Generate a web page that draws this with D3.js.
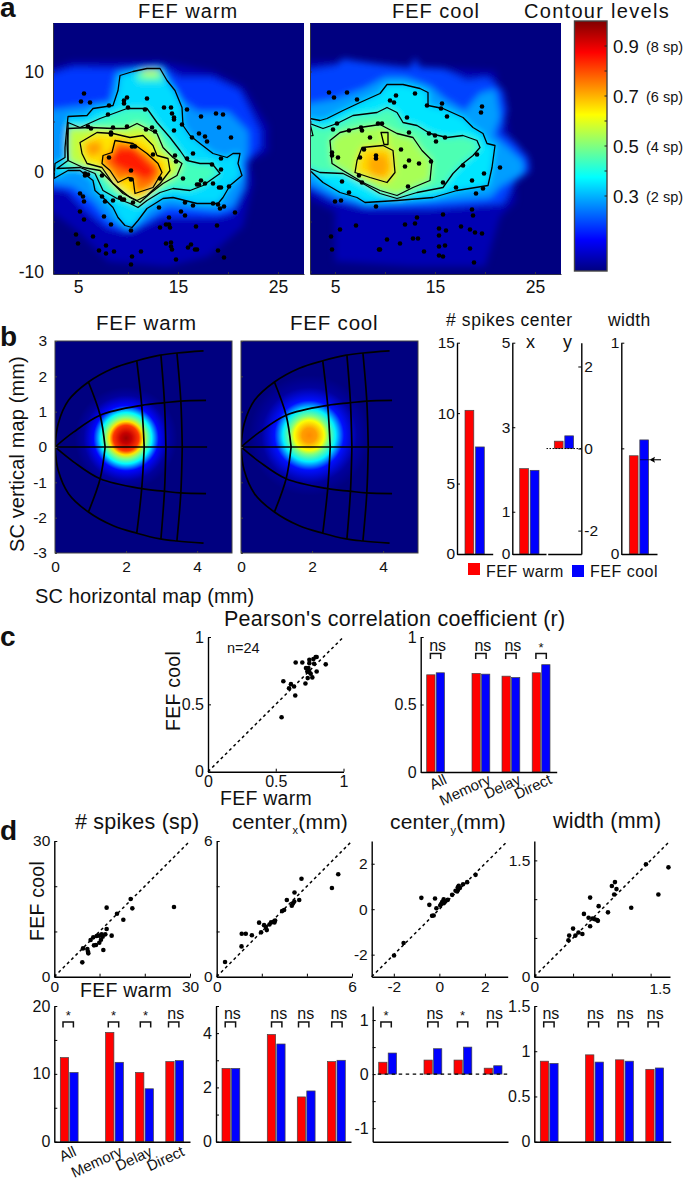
<!DOCTYPE html>
<html><head><meta charset="utf-8">
<script src="https://cdn.jsdelivr.net/npm/d3@7"></script>
<style>
html,body{margin:0;padding:0;background:#fff}
svg{display:block}
text{font-family:"Liberation Sans",Arial,sans-serif;fill:#111}
</style></head><body><svg id="c" width="685" height="1181"></svg>
<script>
// ---------- DATA: panel a ----------
const warmDots=[[5.6,7.8],[5.3,7],[6.2,6.9],[8.1,6.6],[9.6,7.1],[9.6,6.8],[9.9,7.4],[11.9,7.3],[10,6.4],[11.7,6.2],[13.6,6.4],[14.3,6.4],[14.4,5.8],[14.6,5.4],[14.6,5.2],[15.9,6.2],[17.3,5.5],[18.8,5.8],[19.5,5.7],[19.1,4.4],[20.3,3.4],[15.4,4.7],[14.6,4.1],[17.1,3.8],[17.7,3.5],[17.9,3],[16.4,3.4],[16.5,1.8],[15.9,1.3],[14.7,1.6],[14.8,1],[18.4,.7],[19.3,1.3],[19.3,.2],[15.5,-.7],[18.5,-1.2],[17.7,-1.2],[17.3,-.9],[17.1,-1.3],[16.9,-1.3],[19.3,-1.6],[20.1,-1.5],[19.1,-1.6],[15.7,-3.1],[16.5,-3.4],[18.5,-3.2],[19,-3.3],[19.6,-3.5],[19.2,-3.7],[20.7,-4.1],[15.3,-4],[15.7,-4.4],[13.1,-3.6],[14.1,-4.6],[13.8,-5.3],[14.1,-5.3],[14.2,-5.6],[13.2,-5.6],[16.8,-5.5],[18.9,-5.4],[10.3,-5.9],[4.8,-6.3],[6.5,-6.5],[5,-7.2],[7.8,-7.4],[7.1,-7.9],[7.8,-8.2],[8.6,-8],[11.3,-8],[10.4,-8.5],[10.3,-9.3],[13.8,-7.2],[14.3,-7.1],[14.3,-7.5],[14.4,-7.8],[16,-7.6],[16.3,-7.3],[16.7,-7.8],[16.9,-7.8],[19,-7.9],[19.6,-8.6],[14.8,-8.8],[5.2,-2.2],[5.5,-2.5],[5.6,-3],[5.2,-4],[5.6,-4.8],[7.6,-4.5],[8.3,-5.3],[7.4,-2.5],[7.7,-3],[8.5,-2.9],[9.2,-2.6],[9.4,-2.8],[9.6,-2.8],[10.5,-3.1],[5.7,-.2],[6,-.3],[5.7,-.4],[7.4,-.4],[10.3,.1],[10.3,-.8],[13.2,-.7],[8.1,1.4],[12.5,1.7],[10.4,2.5],[10.7,2.5],[8,5.7],[6,4.5],[6.3,4.3],[8.5,4.4],[8.3,3.9],[8.3,3.7],[9.9,4.5],[11.8,4.2],[12.4,4.4],[12.7,4]];
const coolDots=[[4.4,7.9],[4.9,7.4],[6.2,7.9],[7.2,7.2],[10.5,7.1],[10.9,6.9],[11.1,7.6],[13,7.8],[14.2,6.6],[15.6,6.3],[15.7,6.8],[16.2,5.5],[12.2,5.4],[19.7,6.5],[19.6,5.9],[5.2,4.8],[4.8,4.2],[6.4,4.1],[7.6,4.4],[7.7,4.1],[9.3,4.8],[9.7,4.8],[8.5,3.4],[12.4,3.9],[14.4,3.8],[15,3.6],[15.1,3],[16,3.4],[7.9,2.2],[4.7,1.9],[4.7,1.6],[5.3,1.4],[7.5,1.4],[9.1,1.6],[9.1,1.3],[11.6,2.2],[12.4,1.1],[12,.5],[13.4,.8],[14.6,1],[19.2,1.7],[17.8,.6],[21.5,.4],[19.9,-.2],[7.4,-.4],[7.7,-1.1],[5.7,-1],[12.3,-1.5],[15.8,-1.1],[18.7,-.9],[17.1,-1.6],[19.8,-1.7],[19.1,-2.2],[6.4,-2.1],[5,-3],[5.6,-2.9],[9.1,-3.5],[18.7,-3.8],[18.8,-4.4],[15.8,-4.3],[13.2,-4.6],[13,-5.2],[12,-5.3],[7.1,-5.4],[5.5,-5.8],[4.6,-6.5],[4.7,-7.8],[10.2,-6.8],[11.5,-7.2],[12.8,-6.7],[13.3,-6.7],[13.9,-8],[9.4,-7.8],[9.5,-7.8],[15.4,-5.7],[16.1,-5.9],[15.4,-6.4],[17.6,-5.5],[18.5,-5.8],[19,-6.1],[19.7,-6.2],[15.4,-7.5],[16,-7.4],[18.5,-7.7],[15.4,-8.4],[15.8,-8.5],[18.9,-9.1]];

const warmC1=[[2.6,-.7],[4,.1],[5.2,.1],[6.5,-.9],[6.7,-1.9],[7.5,-2.6],[8.5,-3.6],[9,-4.6],[9.7,-5.4],[10.4,-5.6],[11,-4.9],[11.9,-3.7],[13.5,-2.7],[14.5,-2.6],[16.9,-3.2],[19,-3.2],[19.5,-2.6],[20.2,-1.4],[21.4,-.4],[21,.8],[21.2,1.8],[20.5,1.8],[19.9,1.4],[18.5,1.8],[17.2,2.8],[16.2,3.6],[15.5,4.6],[15.4,6.4],[14.7,8.1],[13.9,9.1],[13.2,10.3],[11.9,10.3],[10.5,10],[9.2,9.6],[9,8.1],[8.5,6.6],[6.5,6.3],[5.9,5.6],[4,5.5],[3.7,2.4],[3.7,1.4],[2.7,.8]];
const warmC2=[[2.9,.3],[4,1.1],[4,4.9],[5.2,4.4],[7.2,5.3],[9.9,6.3],[11.9,6.3],[12.9,4.9],[14.2,3.4],[15.2,2.1],[15.9,1.1],[17.2,.8],[18.4,.8],[19.2,-.2],[17.5,-1.4],[16.2,-1.9],[14.5,-1.7],[13.2,-2.1],[11.9,-2.9],[11,-3.6],[10.2,-3.2],[8.9,-2.7],[7.5,-1.9],[6.7,-.2],[5.2,.4]];
const warmC3=[[4,4.3],[6.2,4.4],[8.5,4.3],[9.9,4.3],[10.9,4.8],[11.9,4.3],[12.9,3.8],[13.5,2.4],[14.5,1.4],[15.4,.8],[14.9,-.4],[13.5,-1.2],[12.2,-2.2],[11.2,-3.1],[10.2,-2.6],[8.5,-1.2],[7.2,.1],[5.5,.4],[4,1.1],[3.9,2.8]];
const warmC4=[[5.2,2.9],[6.9,3.9],[8.5,3.8],[10.2,3.4],[11.5,3.6],[12.5,2.6],[12.9,1.6],[14,1.3],[14.2,.1],[13.2,-1.2],[11.9,-2.4],[10.9,-2.9],[9.5,-2.2],[8.5,-1.2],[7.4,.4],[5.9,.8],[5.4,1.8]];
const warmC5=[[8.7,3.1],[10.5,2.8],[11.9,1.8],[13,.8],[13.4,-.1],[12.5,-1.6],[10.7,-2.2],[10.5,-.7],[10,-.6],[9,-1.1],[8.2,.1],[7.4,.8],[7.5,1.6],[8.4,1.9]];
const warmEnvA=[[1,-3],[5,-6],[8,-9],[14,-9.5],[18,-8.5],[21.5,-5.5],[22.5,-1],[22,1],[24,2],[24,4.5],[21.5,8.5],[18.5,10],[13.2,11],[8.5,11],[4.5,11],[1,10]];
const warmEnvB=[[1,9.4],[4.5,10.4],[8.5,10.3],[13.2,10.6],[15.2,9.4],[18.5,9.4],[21.2,8.1],[23.2,4.1],[23.2,2.4],[22,1.1],[21.7,-1.6],[20.5,-4.2],[18.9,-4.6],[13.2,-4.6],[11.2,-5.6],[9.9,-6.1],[7.9,-5.6],[5.5,-3.6],[3.9,-1.9],[1,-1.6]];
const warmEnvC=[[1,6],[5,6.5],[8.2,7],[8.8,9.9],[13.4,10.4],[14.4,8.5],[15.5,7],[17,6],[20,6],[22,4],[22,2],[21.5,.5],[21.5,-1.5],[20.5,-3.5],[19,-4],[14,-3.5],[11.5,-5],[10,-5.8],[8,-4.8],[6.5,-3],[4.5,-1.5],[1,-1]];
const warmHot=[[8.7,2.3],[10.5,2.4],[11.9,1.1],[12.9,.1],[11.9,-.9],[10.5,-.2],[8.9,.4],[8.2,1.1]];
const warmLeftSpot=[[5.7,2.8],[7.2,3.1],[7.5,2.1],[6.5,1.4],[5.9,1.8]];
const warmTopSpot=[[10.8,10],[13.2,10.2],[13.6,9],[11,9]];
const warmTopCore=[[11.5,10.1],[13,10.1],[13,9.6],[11.5,9.6]];

const coolC1=[[1,5.3],[2.5,5.3],[3.5,5.1],[4.2,5.3],[5.8,6.1],[7.5,6.9],[9.5,7.8],[10.2,8.7],[11.8,8.7],[13.5,8.3],[14.3,7.9],[14.3,6.6],[15.8,6.3],[17.8,5.4],[18.8,4.4],[19.8,3.8],[20.2,2.8],[21,2.6],[20.7,.4],[20.3,-1.4],[17.2,-1.9],[14.8,-2.6],[11.2,-2.9],[8,-3.1],[7.2,-2.6],[5.5,-2.1],[3.8,-1.1],[2.5,.1],[1,.1]];
const coolC2=[[1,4.8],[2.5,4.8],[3.8,4.3],[5.2,4.8],[6.8,5.6],[9.2,5.9],[10.2,6.4],[11.2,5.9],[11.8,4.9],[13.2,4.6],[14.5,3.8],[16.2,3.4],[17.8,3.6],[19.2,3.1],[19.5,2.4],[18.8,1.6],[17.8,.8],[16.8,-.2],[15.8,-1.6],[13.2,-2.1],[11.2,-2.7],[9.5,-2.2],[7.8,-1.2],[5.8,-.2],[3.5,-.1],[2.5,.3],[1,.3]];
const coolC3=[[4.5,3.1],[5.5,3.9],[7.5,4.4],[9.5,4.7],[11.2,3.8],[12.8,3.4],[13.7,2.1],[14.7,1.1],[14.5,-.9],[12.8,-1.6],[11.2,-2.4],[9.5,-1.9],[7.8,-1.1],[5.8,.1],[4.7,.8]];
const coolC4=[[7.7,2.4],[9.8,2.6],[10.8,2.1],[11,-.1],[10.2,-1.1],[8.5,-.6],[7,-.1],[7.2,1.1]];
const coolC5=[[9.6,3.9],[10.3,3.9],[10.3,2.7],[9.9,2.7]];
const coolNotch=[[1,3.4],[2.8,3.6],[2.5,4.8],[1,4.8]];
const coolEnvA=[[1,-2],[5,-4],[5,-9],[13,-9.5],[20,-9.5],[21.5,-4.5],[23,-3],[23,1],[21,10],[5,11],[1,11]];
const coolEnvB=[[1,9.9],[5.2,10.6],[5.8,11.3],[6.8,11.1],[12.5,10.3],[13,11.4],[13.5,10.4],[15.8,10.3],[18.2,9.1],[20.2,9.4],[21.8,8.1],[22.2,6.1],[21.5,3.8],[22.8,3.1],[24.3,1.4],[24.5,.1],[22.8,-1.2],[21.8,-3.2],[14.8,-3.7],[8,-3.7],[4.8,-2.9],[1,-.9]];
const coolEnvC=[[1,6.5],[5,7.2],[8,8.3],[10,9.4],[12,9.4],[14.5,8.5],[16,7.2],[18,6],[19.5,7.8],[21,8.2],[21.5,5.5],[20.8,3.6],[22,2.6],[23.8,1],[23.8,-.2],[21.5,-1.5],[20.5,-2.6],[15,-3],[8,-3.3],[5,-2.5],[1,-.5]];
const coolHot=[[8.5,1.6],[10,1.8],[10.5,.6],[10,-.6],[8.7,-.4],[8.2,.6]];

// fill level of each region (heat value)
const warmBands=[[warmEnvA,.05],[warmEnvB,.18],[warmEnvC,.27],[warmC1,.34],[warmTopSpot,.45],[warmTopCore,.58],[warmC2,.44],[warmC3,.56],[warmC4,.65],[warmLeftSpot,.72],[warmC5,.76],[warmHot,.85]];
const coolBands=[[coolEnvA,.05],[coolEnvB,.19],[coolEnvC,.28],[coolC1,.35],[coolC2,.45],[coolC3,.54],[coolC5,.6],[coolC4,.66],[coolHot,.71]];
const warmContours=[warmC1,warmC2,warmC3,warmC4,warmC5];
const coolContours=[coolC1,coolC2,coolC3,coolC4,coolC5];

const jetStops=[0,.125,.375,.625,.875,1];
const jetColors=["#000080","#0000ff","#00ffff","#ffff00","#ff0000","#800000"];
const barTickVals=[.3,.4,.5,.6,.7,.8,.9];
const barLabels=[[.9,"0.9","(8 sp)"],[.7,"0.7","(6 sp)"],[.5,"0.5","(4 sp)"],[.3,"0.3","(2 sp)"]];

// ---------- DATA: panel b ----------
const arcOuter=[[0,0],[.09,.66],[.38,1.32],[.94,1.84],[1.64,2.23],[2.3,2.44],[2.96,2.6],[3.43,2.66],[4.18,2.72]];
const arcInner=[[0,0],[.52,.42],[1.27,.9],[2.44,1.18],[3.05,1.25],[3.52,1.3],[4.25,1.32]];
const arcMid=[[0,0],[4.28,0]];
const radial1=[[.94,1.84],[1.27,.9],[1.41,0]];
const radial2=[[2.3,2.44],[2.44,1.18],[2.51,0]];
const radial3=[[2.98,2.6],[3.08,1.25],[3.12,0]];
const radial4=[[3.43,2.66],[3.54,1.3],[3.58,0]];
const warmCentre=[2,.25], coolCentre=[1.92,.33];
const warmRadii=[0,.15,.36,.47,.58,.72,.92,1.2,1.45];
const warmHeat=[.97,.93,.82,.65,.5,.37,.13,.03,0];
const coolRadii=[0,.2,.42,.54,.74,.98,1.35,1.7];
const coolHeat=[.74,.72,.62,.5,.36,.14,.03,0];
const spikesSummary=[10.2,7.6], centerXSummary=[2.02,1.98], centerYSummary=[.18,.31], widthSummary=[.465,.54];
const arrowValue=.446;

// ---------- DATA: panel c ----------
const rPairs=[[.543,.404],[.556,.672],[.612,.65],[.598,.62],[.635,.633],[.644,.566],[.719,.655],[.736,.695],[.77,.7],[.647,.811],[.696,.811],[.748,.831],[.748,.806],[.723,.769],[.741,.769],[.733,.744],[.748,.739],[.758,.727],[.802,.744],[.869,.797],[.783,.801],[.795,.851],[.778,.836],[.802,.851]];
const categories=["All","Memory","Delay","Direct"];
const rWarm=[.72,.73,.71,.735], rCool=[.735,.725,.70,.795];
const rSig=["ns","ns","ns","*"];

// ---------- DATA: panel d ----------
const spikePairs=[[6.19,3.17],[6.34,6.26],[7.3,6.12],[7.52,5.16],[7.44,5.53],[8.03,8.11],[8.62,8.7],[9.36,8.99],[9.95,9.07],[10.47,9.36],[8.77,6.93],[9.21,7],[9.95,7.52],[10.32,8.18],[10.84,5.9],[10.69,8.85],[11.28,9.36],[11.57,10.54],[12.68,9.07],[11.57,15.26],[13.86,13.93],[15.26,12.6],[16.88,17.17],[17.25,15.11],[26.46,15.4]];
const cxPairs=[[.37,.65],[1.1,1.34],[1.11,1.9],[1.29,1.9],[1.56,1.83],[1.88,2.39],[1.97,1.96],[2.1,2.28],[2.18,2.21],[2.22,2.06],[2.34,2.31],[2.41,2.4],[2.56,2.4],[2.59,2.48],[2.9,2.9],[2.99,2.95],[3.11,3.39],[3.33,3.14],[3.38,3.24],[3.44,3.32],[3.45,3.72],[3.66,3.39],[3.76,4.33],[5.11,3.92],[5.39,4.53]];
const cyPairs=[[-1.99,-2.04],[-1.57,-1.49],[-.79,.5],[-.44,.19],[-.19,.47],[-.25,-.28],[-.13,.04],[.07,.22],[.19,.44],[.19,.26],[.26,.34],[.37,.41],[.56,.63],[.71,.81],[.82,.85],[.78,.78],[.85,1.03],[.9,.93],[1.04,1.1],[1.22,1.19],[1.59,1.51],[.81,.96],[.12,.31],[.04,.16],[-.32,-.29]];
const widthPairs=[[.44,.47],[.45,.53],[.5,.62],[.53,.53],[.57,.57],[.62,.55],[.64,.81],[.7,.76],[.72,1.02],[.72,.65],[.75,.75],[.78,.74],[.81,.73],[.82,.72],[.83,.91],[.95,.83],[1,1.17],[1.04,1.22],[1.03,1.06],[1.06,1.13],[1.25,.89],[1.44,1.45],[1.6,1.06],[1.73,1.41]];
const spikesWarm=[12.4,16.1,10.2,11.8], spikesCool=[10.2,11.7,7.8,11.95], spikesSig=["*","*","*","ns"];
const cxWarm=[2.7,3.95,1.65,2.95], cxCool=[2.7,3.6,1.87,3.0], cxSig=["ns","ns","ns","ns"];
const cyWarm=[.22,.26,.26,.11], cyCool=[.39,.47,.5,.155], cySig=["*","ns","*","ns"];
const wWarm=[.89,.96,.905,.8], wCool=[.865,.88,.89,.815], wSig=["ns","ns","ns","ns"];

// ---------- helpers ----------
const RED="#ff0000",BLUE="#0000ff";
const svg=d3.select("#c");
const defs=svg.append("defs");
const jet=d3.scaleLinear().domain(jetStops).range(jetColors).clamp(true);
function T(x,y,s,size,o={}){
  const t=svg.append("text").attr("x",x).attr("y",y).attr("font-size",size).text(s);
  if(o.anchor)t.attr("text-anchor",o.anchor);
  if(o.weight)t.attr("font-weight",o.weight);
  if(o.ls)t.attr("letter-spacing",o.ls);
  if(o.rot!==undefined)t.attr("transform",`rotate(${o.rot} ${x} ${y})`);
  return t;
}
function styleAxis(g,size,lw,col){
  g.selectAll("text").attr("font-size",size).attr("fill","#111").attr("stroke","none");
  g.selectAll("path.domain").attr("stroke",col||"#000").attr("stroke-width",lw);
  g.selectAll(".tick line").attr("stroke",col||"#000").attr("stroke-width",Math.min(lw,1));
}
function axL(x,scale,vals,fmt,size,lw,pad){
  const g=svg.append("g").attr("transform",`translate(${x},0)`).call(
    d3.axisLeft(scale).tickValues(vals).tickFormat(fmt).tickSizeInner(-3).tickSizeOuter(0).tickPadding(pad===undefined?4:pad));
  styleAxis(g,size,lw);return g;
}
function axB(y,scale,vals,fmt,size,lw,pad){
  const g=svg.append("g").attr("transform",`translate(0,${y})`).call(
    d3.axisBottom(scale).tickValues(vals).tickFormat(fmt).tickSizeInner(-3).tickSizeOuter(0).tickPadding(pad===undefined?4:pad));
  styleAxis(g,size,lw);return g;
}
const lab=(ls)=>(d)=>{const m=ls.find(l=>l[0]===d);return m?m[1]:""};

// ---------- Panel a ----------
function heatPanel(id,left,bands,contours,dots,extra){
  const x=d3.scaleLinear().domain([2.5,27.6]).range([left,left+251]);
  const y=d3.scaleLinear().domain([-10.25,14.85]).range([274,23]);
  const line=d3.line().x(d=>x(d[0])).y(d=>y(d[1])).curve(d3.curveLinearClosed);
  const clip=defs.append("clipPath").attr("id","cp"+id);
  clip.append("rect").attr("x",left).attr("y",23).attr("width",251).attr("height",251);
  const f=defs.append("filter").attr("id","bl"+id).attr("filterUnits","userSpaceOnUse")
    .attr("x",left-40).attr("y",-20).attr("width",340).attr("height",340);
  f.append("feGaussianBlur").attr("stdDeviation",3.8);
  const root=svg.append("g").attr("clip-path",`url(#cp${id})`);
  root.append("rect").attr("x",left).attr("y",23).attr("width",251).attr("height",251).attr("fill",jet(0));
  const heat=root.append("g").attr("filter",`url(#bl${id})`);
  heat.selectAll("path").data(bands).join("path").attr("d",d=>line(d[0])).attr("fill",d=>jet(d[1]));
  root.selectAll("path.ct").data(contours).join("path").attr("class","ct").attr("d",line)
    .attr("fill","none").attr("stroke","#000").attr("stroke-width",1.3).attr("stroke-linejoin","round");
  if(extra) root.append("path").attr("d",d3.line().x(d=>x(d[0])).y(d=>y(d[1]))(extra)).attr("fill","none").attr("stroke","#000").attr("stroke-width",1.2);
  root.selectAll("circle").data(dots).join("circle").attr("cx",d=>x(d[0])).attr("cy",d=>y(d[1])).attr("r",2.3).attr("fill","#000");
  return {x,y};
}
const aW=heatPanel("w",53,warmBands,warmContours,warmDots);
const aC=heatPanel("c",310,coolBands,coolContours,coolDots,coolNotch);
function aAxes(p,lbl){
  const gx=svg.append("g").attr("transform","translate(0,274)").call(d3.axisBottom(p.x).tickValues([5,10,15,20,25]).tickFormat(d=>d%10===5?d:"").tickSizeInner(-2).tickSizeOuter(0).tickPadding(7));
  styleAxis(gx,17.5,1,"#334");
  const gy=svg.append("g").attr("transform",`translate(${p.x.range()[0]},0)`).call(d3.axisLeft(p.y).tickValues([-10,-5,0,5,10]).tickFormat(d=>lbl&&d%10===0?d:"").tickSizeInner(-2).tickSizeOuter(0).tickPadding(9));
  styleAxis(gy,17.5,1,"#334");
}
aAxes(aW,true);aAxes(aC,false);
T(138,18,"FEF warm",20,{ls:1});
T(392,18,"FEF cool",20,{ls:1});
T(524,18,"Contour levels",20,{ls:1.3});
T(0,17,"a",28,{weight:"bold"});

// colour bar
const cbY=d3.scaleLinear().domain([0,1]).range([271,21]);
const grad=defs.append("linearGradient").attr("id","jetbar").attr("x1",0).attr("x2",0).attr("y1",1).attr("y2",0);
jetStops.forEach((s,i)=>grad.append("stop").attr("offset",s).attr("stop-color",jetColors[i]));
svg.append("rect").attr("x",574.5).attr("y",cbY(1)).attr("width",32.5).attr("height",cbY(0)-cbY(1)).attr("fill","url(#jetbar)").attr("stroke","#444").attr("stroke-width",1.4);
svg.selectAll("line.cbt").data(barTickVals).join("line").attr("class","cbt").attr("x1",604.5).attr("x2",607).attr("y1",d=>cbY(d)).attr("y2",d=>cbY(d)).attr("stroke","#222");
barLabels.forEach(l=>{
  T(613,cbY(l[0])+6.5,l[1],18.5);
  T(646,cbY(l[0])+6,l[2],14.5);
});

// ---------- Panel b ----------
function mapPanel(id,left,centre,radii,heat){
  const x=d3.scaleLinear().domain([0,4.98]).range([left,left+177]);
  const y=d3.scaleLinear().domain([-3,3]).range([553,341]);
  defs.append("clipPath").attr("id","mp"+id).append("rect").attr("x",left).attr("y",341).attr("width",177).attr("height",212);
  const rmax=radii[radii.length-1];
  const g=defs.append("radialGradient").attr("id","rg"+id);
  g.selectAll("stop").data(radii).join("stop").attr("offset",d=>d/rmax).attr("stop-color",(d,i)=>jet(heat[i]));
  const root=svg.append("g").attr("clip-path",`url(#mp${id})`);
  root.append("rect").attr("x",left).attr("y",341).attr("width",177).attr("height",212).attr("fill",jet(0));
  root.append("circle").attr("cx",x(centre[0])).attr("cy",y(centre[1])).attr("r",x(rmax)-x(0)).attr("fill",`url(#rg${id})`);
  const ln=d3.line().x(d=>x(d[0])).y(d=>y(d[1])).curve(d3.curveCatmullRom);
  const mirror=a=>a.map(d=>[d[0],-d[1]]);
  const up=[arcOuter,arcInner,radial1,radial2,radial3,radial4];
  const all=[arcMid,...up,...up.map(mirror)];
  root.selectAll("path.g").data(all).join("path").attr("class","g").attr("d",ln).attr("fill","none").attr("stroke","#000").attr("stroke-width",1.7);
  svg.append("rect").attr("x",left).attr("y",341).attr("width",177).attr("height",212).attr("fill","none").attr("stroke","#444").attr("stroke-width",1);
  const gx=svg.append("g").attr("transform","translate(0,553)").call(d3.axisBottom(x).tickValues([0,2,4]).tickFormat(d=>d).tickSizeInner(-2).tickSizeOuter(0).tickPadding(8));
  styleAxis(gx,15.5,1,"#444");gx.select("path.domain").remove();
  const gy=svg.append("g").attr("transform",`translate(${left},0)`).call(d3.axisLeft(y).tickValues([-3,-2,-1,0,1,2,3]).tickFormat(d=>id==="w"?d:"").tickSizeInner(-2).tickSizeOuter(0).tickPadding(8));
  styleAxis(gy,15.5,1,"#444");gy.select("path.domain").remove();
}
mapPanel("w",55,warmCentre,warmRadii,warmHeat);
mapPanel("c",241,coolCentre,coolRadii,coolHeat);
T(96,330,"FEF warm",20.5,{ls:.8});
T(290,330,"FEF cool",20.5,{ls:.8});
T(0,346,"b",28,{weight:"bold"});
T(35,603,"SC horizontal map (mm)",20,{ls:.12});
T(24,552,"SC vertical map (mm)",20,{rot:-90,ls:.12});

// small summary bars
function summary(left,end,yDomain,vals,pos){
  const y=d3.scaleLinear().domain(yDomain).range([554,342.7]);
  const x=d3.scaleOrdinal(["warm","cool"],[pos,pos+10.5]);
  return {y,x,vals,left,end};
}
function drawBars(s,base,w){
  [["warm",RED,0],["cool",BLUE,1]].forEach(([k,c,i])=>{
    const v=s.vals[i];
    svg.append("rect").attr("x",s.x(k)).attr("width",w).attr("y",Math.min(s.y(v),s.y(base))).attr("height",Math.abs(s.y(v)-s.y(base)))
      .attr("fill",c).attr("stroke","#444").attr("stroke-width",.7);
  });
}
const barW=8.8;
const sSp=summary(457,492.7,[0,15],spikesSummary,465);drawBars(sSp,0,barW);
axL(457,sSp.y,[0,5,10,15],d=>d,15.5,1.4,2);
axB(554,d3.scaleLinear().domain([0,1]).range([457,492.7]),[],null,14,1.4);
const sX=summary(512.3,546,[0,5],centerXSummary,519.7);drawBars(sX,0,barW);
axL(512.3,sX.y,[0,1,3,5],d=>d,15.5,1.4,2);
axB(554,d3.scaleLinear().domain([0,1]).range([512.3,546]),[],null,14,1.4);
const sY=summary(581.3,547.7,[-2.57,2.58],centerYSummary,554.3);drawBars(sY,0,barW);
const gy2=svg.append("g").attr("transform","translate(581.3,0)").call(d3.axisRight(sY.y).tickValues([-2,0,2]).tickFormat(d=>d).tickSizeInner(-3).tickSizeOuter(0).tickPadding(3));
styleAxis(gy2,15.5,1.4);
axB(554,d3.scaleLinear().domain([0,1]).range([547.7,581.3]),[],null,14,1.4);
svg.append("line").attr("x1",546.5).attr("x2",581).attr("y1",sY.y(0)).attr("y2",sY.y(0)).attr("stroke","#000").attr("stroke-dasharray","1.5 1.5");
const sW=summary(621.3,657,[0,1],widthSummary,629.3);drawBars(sW,0,barW);
axL(621.3,sW.y,[0,.5,1],d=>d===.5?"":d,15.5,1.4,2);
axB(554,d3.scaleLinear().domain([0,1]).range([621.3,657]),[],null,14,1.4);
const ay=sW.y(arrowValue);
svg.append("line").attr("x1",640).attr("x2",650).attr("y1",ay).attr("y2",ay).attr("stroke","#000").attr("stroke-width",.6);
svg.append("line").attr("x1",651).attr("x2",661).attr("y1",ay).attr("y2",ay).attr("stroke","#000").attr("stroke-width",1.1);
const head=d3.path();head.moveTo(649.5,ay);head.lineTo(655,ay-3);head.lineTo(654,ay);head.lineTo(655,ay+3);head.closePath();
svg.append("path").attr("d",head.toString()).attr("fill","#000");
T(446,326,"# spikes center",17.5,{ls:.6});
T(608,326,"width",17.5,{ls:.35});
T(526,348,"x",18);
T(563,348,"y",18);
svg.append("rect").attr("x",468).attr("y",563).attr("width",12).attr("height",12).attr("fill",RED);
T(486,577,"FEF warm",16,{ls:.5});
svg.append("rect").attr("x",572).attr("y",565).attr("width",12).attr("height",12).attr("fill",BLUE);
T(590,577,"FEF cool",16,{ls:.5});

// ---------- generic scatter & bar panels ----------
function scatter(x0,x1,y0,y1,xd,yd,pts,xTicks,yTicks,xl,yl,size){
  const x=d3.scaleLinear().domain(xd).range([x0,x1]);
  const y=d3.scaleLinear().domain(yd).range([y0,y1]);
  const lo=Math.max(xd[0],yd[0]),hi=Math.min(xd[1],yd[1]);
  svg.append("line").attr("x1",x(lo)).attr("y1",y(lo)).attr("x2",x(hi)).attr("y2",y(hi)).attr("stroke","#000").attr("stroke-width",1.5).attr("stroke-dasharray","3 3");
  svg.append("g").selectAll("circle").data(pts).join("circle").attr("cx",d=>x(d[0])).attr("cy",d=>y(d[1])).attr("r",2.3).attr("fill","#000");
  axL(x0,y,yTicks,lab(yl),size,1.4);
  axB(y0,x,xTicks,lab(xl),size,1.4,4);
}
const groupX=[6,51.3,81.3,111.5];
function groupedBars(x0,x1,yTop,yBot,yd,warm,cool,sig,yTicks,yl,bracketShift,brTop,showZero){
  const y=d3.scaleLinear().domain(yd).range([yBot,yTop]);
  const gx=d3.scaleOrdinal(categories,groupX);
  const w=8.3,gap=1.2;
  const base=yd[0]<0?0:yd[0];
  categories.forEach((c,i)=>{
    [[warm[i],RED,0],[cool[i],BLUE,1]].forEach(([v,col,k])=>{
      svg.append("rect").attr("x",x0+gx(c)+k*(w+gap)).attr("width",w).attr("y",y(v)).attr("height",Math.abs(y(base)-y(v)))
        .attr("fill",col).attr("stroke","#444").attr("stroke-width",.7);
    });
    const cx=x0+gx(c)+w+gap/2+bracketShift[i];
    svg.append("path").attr("d",d3.line()([[cx-5.2,brTop+5.5],[cx-5.2,brTop],[cx+5.2,brTop],[cx+5.2,brTop+5.5]])).attr("fill","none").attr("stroke","#111").attr("stroke-width",1.5);
    if(sig[i]==="ns") T(cx+2,brTop-3,"ns",16,{anchor:"middle"});
    else T(cx,brTop-2,"*",13,{anchor:"middle"});
  });
  if(showZero) svg.append("line").attr("x1",x0+5).attr("x2",x1).attr("y1",y(0)).attr("y2",y(0)).attr("stroke","#000").attr("stroke-width",1.4).attr("stroke-dasharray","3.5 3.5");
  axL(x0,y,yTicks,lab(yl),16,1.4);
  axB(yBot,d3.scaleLinear().domain([0,1]).range([x0,x1]),[],null,14,1.4);
}
function catLabels(x0,yy,size,ends){
  const gx=d3.scaleOrdinal(categories,ends);
  categories.forEach(c=>T(x0+gx(c),yy,c,size,{anchor:"end",rot:-25}));
}

// ---------- Panel c ----------
T(224,626,"Pearson's correlation coefficient (r)",21.5,{ls:.28});
T(0,646,"c",28,{weight:"bold"});
scatter(208,343.5,771.7,637,[0,1],[0,1],rPairs,[0,.5,1],[0,.5,1],[[0,"0"],[.5,"0.5"],[1,"1"]],[[0,"0"],[.5,"0.5"],[1,"1"]],16);
T(227,653,"n=24",14.5);
T(220,805,"FEF warm",19.5,{ls:.25});
T(180,731,"FEF cool",19.5,{rot:-90,ls:.25});
groupedBars(420.7,556.7,637,772,[0,1],rWarm,rCool,rSig,[0,.5,1],[[0,"0"],[.5,"0.5"],[1,"1"]],[0,0,0,0],653.5);
catLabels(420.7,783,15,[27,71,101,132]);

// ---------- Panel d ----------
T(0,840,"d",28,{weight:"bold"});
T(75,829,"# spikes (sp)",21.5,{ls:.2});
const t2=T(232,829,"center",21,{ls:.2});
t2.append("tspan").attr("font-size",11).attr("dy",5).attr("dx",1).text("x");
t2.append("tspan").attr("dy",-5).text("(mm)");
const t3=T(390,829,"center",21,{ls:.2});
t3.append("tspan").attr("font-size",11).attr("dy",5).attr("dx",1).text("y");
t3.append("tspan").attr("dy",-5).text("(mm)");
T(553,828,"width (mm)",21.5,{ls:.2});
const two=(a,b)=>[[a,String(a)],[b,String(b)]];
scatter(54.3,190,976.7,841,[0,30],[0,30],spikePairs,[0,10,20,30],[0,10,20,30],two(0,30),two(0,30),15.5);
scatter(216.7,352,976.7,841,[0,6],[0,6],cxPairs,[0,2,4,6],[0,2,4,6],two(0,6),two(0,6),15.5);
scatter(371.7,507.7,976.7,841,[-2.97,3],[-2.97,3],cyPairs,[-2,0,2],[-2,0,2],[[-2,"-2"],[0,"0"],[2,"2"]],[[-2,"-2"],[0,"0"],[2,"2"]],15.5);
scatter(534.3,670,976.7,841,[0,1.75],[0,1.75],widthPairs,[0,.5,1,1.5],[0,.5,1,1.5],[[0,"0"]],[[0,"0"],[1.5,"1.5"]],15.5);
T(671,994,"1.5",15.5,{anchor:"end"});
T(80,997,"FEF warm",19.5,{ls:.25});
T(44,941,"FEF cool",19.5,{rot:-90,ls:.25});

groupedBars(54.3,190,1006,1141.7,[0,20],spikesWarm,spikesCool,spikesSig,[0,5,10,15,20],[[0,"0"],[10,"10"],[20,"20"]],[-1,-1,1,-1],1022);
catLabels(54.3,1155,15,[23,69,99,131]);
groupedBars(216,351,1006,1141.7,[0,5],cxWarm,cxCool,cxSig,[0,1,2,3,4,5],[[0,"0"],[2,"2"],[4,"4"]],[-.5,.5,-2.5,.5],1022);
groupedBars(372.7,508,1006,1141.7,[-1.25,1.26],cyWarm,cyCool,cySig,[-1,-.5,0,.5,1],[[-1,"-1"],[0,"0"],[1,"1"]],[-1.5,0,-.3,-.6],1022,true);
groupedBars(534.3,670.7,1006,1141.7,[0,1.5],wWarm,wCool,wSig,[0,.5,1,1.5],[[0,"0"],[.5,"0.5"],[1,"1"],[1.5,"1.5"]],[-.3,-1,-1.3,-1.5],1022);
</script></body></html>
